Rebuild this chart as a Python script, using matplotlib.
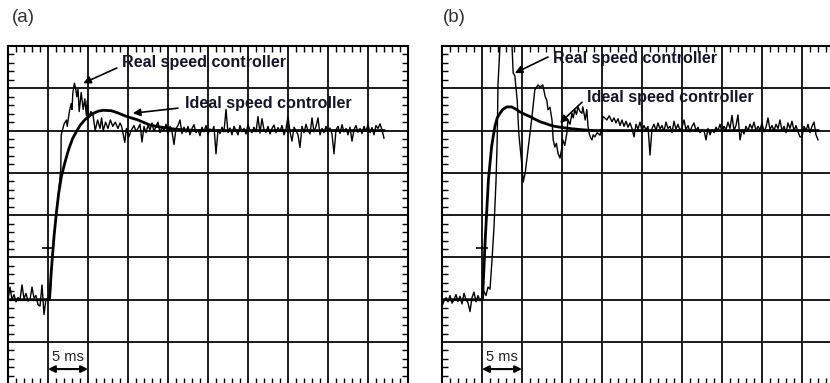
import numpy as np
import matplotlib
matplotlib.use("Agg")
import matplotlib.pyplot as plt
from matplotlib.ticker import MultipleLocator

plt.rcParams['font.family'] = ['Liberation Sans', 'DejaVu Sans']

# ---------------- data (time in ms, speed in grid divisions) ----------------
# panel (a): ideal controller response
ideal_t_a = [0, 5.0, 5.2, 5.42, 5.75, 6.04, 6.33, 6.67, 7.08, 7.4, 7.7, 8.1, 8.54,
             9.0, 9.58, 10.2, 10.8, 11.3, 11.9, 12.9, 13.7, 14.6, 15.4, 16.25,
             17.0, 17.75, 18.8, 19.9, 21.0, 22.4, 25.0, 47.0]
ideal_a = [2.0, 2.0, 2.05, 2.7, 3.49, 4.04, 4.51, 4.91, 5.22, 5.44, 5.62, 5.82, 5.97,
           6.12, 6.25, 6.35, 6.42, 6.46, 6.48, 6.47, 6.42, 6.35, 6.3, 6.25,
           6.19, 6.13, 6.09, 6.06, 6.03, 6.01, 6.0, 6.0]

# panel (a): real controller, before the step (every 0.25 ms from 0 to 5 ms)
real_pre_a = [2.0, 2.3, 2.0, 2.12, 1.95, 2.05, 2.0, 2.35, 2.02, 2.15, 1.97, 2.0,
              2.3, 2.04, 2.1, 1.88, 1.85, 2.35, 1.65, 2.02, 2.0]
# transient part
real_tr_t_a = [5.25, 5.4, 5.6, 5.8, 6.05, 6.3, 6.6, 6.65, 7.0, 7.3, 7.4, 7.7, 7.9,
               8.0, 8.1, 8.3, 8.45, 8.6, 8.75, 8.9, 9.15, 9.4, 9.6, 9.8, 9.9, 10.1,
               10.35, 10.6, 10.9, 11.2, 11.5, 11.7, 11.9, 12.2, 12.5, 12.8, 13.1,
               13.4, 13.75, 14.0, 14.2, 14.6, 14.8, 15.1, 15.4, 15.75, 16.0]
real_tr_a = [2.0, 2.6, 3.2, 3.6, 4.05, 4.5, 5.1, 5.9, 6.15, 6.25, 6.1, 6.48, 6.64,
             6.5, 6.88, 7.12, 7.0, 6.8, 6.98, 6.45, 6.9, 6.5, 6.75, 6.35, 6.7, 6.3,
             6.45, 6.4, 6.0, 6.25, 6.05, 6.3, 6.0, 6.2, 6.05, 6.25, 6.1,
             6.2, 6.05, 6.18, 6.1, 5.72, 6.05, 5.85, 6.0, 6.12, 5.98]
# steady state noise, every 0.25 ms from 16.25 to 47 ms
real_ss_a = [6.05, 6.15, 5.73, 6.1, 5.95, 6.12, 6.02, 6.18,
             5.98, 6.1, 6.2, 5.95, 6.08, 6.0, 6.15, 5.92,
             6.1, 5.97, 5.67, 6.05, 6.12, 6.25, 5.93, 6.08,
             5.96, 6.1, 5.9, 6.05, 6.14, 5.95, 6.02, 5.88,
             6.08, 5.97, 6.12, 5.92, 6.04, 5.98, 6.1, 5.45,
             6.02, 5.93, 6.08, 5.97, 6.5, 5.95, 6.06, 5.9,
             6.1, 6.0, 5.9, 6.12, 5.97, 6.05, 5.92, 6.15,
             6.0, 5.95, 6.08, 5.97, 6.33, 5.94, 6.28, 6.02,
             5.96, 6.1, 5.92, 6.05, 6.13, 5.95, 6.07, 5.98,
             6.12, 5.9, 6.04, 6.33, 5.97, 5.75, 6.08, 6.0,
             5.9, 5.6, 6.1, 5.95, 6.15, 6.0, 5.92, 6.3,
             5.97, 6.1, 6.3, 5.9, 6.05, 5.95, 6.1, 5.98,
             6.06, 5.92, 5.45, 6.02, 6.1, 5.93, 6.14, 5.97,
             6.05, 5.9, 6.08, 5.75, 6.02, 6.12, 5.96, 6.05,
             5.93, 6.1, 5.98, 6.15, 5.95, 6.07, 5.9, 6.12,
             6.05, 6.16, 6.02, 5.82]

# panel (b): ideal controller response
ideal_t_b = [0, 5.0, 5.08, 5.4, 5.8, 6.2, 6.6, 6.9, 7.25, 7.6, 8.1, 8.7, 9.2, 9.75,
             10.4, 11.0, 11.6, 12.25, 12.9, 13.5, 14.1, 14.75, 15.5, 16.4, 17.5,
             19.0, 47.0]
ideal_b = [2.0, 2.0, 2.05, 3.41, 4.83, 5.62, 6.09, 6.3, 6.41, 6.5, 6.56, 6.56, 6.51,
           6.44, 6.38, 6.33, 6.27, 6.21, 6.17, 6.13, 6.1, 6.08, 6.06, 6.04, 6.02,
           6.0, 6.0]

# panel (b): real controller, before the step (every 0.25 ms from 0 to 5.75 ms)
real_pre_b = [1.85, 1.97, 2.05, 1.95, 2.1, 1.92, 2.0, 2.12, 1.96, 2.08, 1.9, 2.15,
              2.0, 1.93, 1.72, 2.05, 2.18, 1.95, 2.1, 1.98, 2.05, 2.2, 2.1, 2.3]
real_tr_t_b = [6.0, 6.25, 6.5, 6.75, 6.9, 7.0, 7.25, 7.6, 8.0, 8.4, 8.75, 8.9, 9.1,
               9.4, 9.6, 10.0, 10.15, 10.4, 10.75, 11.25, 11.6, 12.0, 12.25, 12.6,
               12.9, 13.1, 13.25, 13.5, 13.75, 13.9, 14.1, 14.3, 14.5, 14.75, 15.0,
               15.1, 15.35, 15.6, 15.75, 16.0, 16.25, 16.4, 16.6, 16.8, 17.0, 17.25,
               17.5, 17.6, 17.9, 18.1, 18.25, 18.4, 18.6, 18.75, 18.9, 19.1, 19.4,
               19.75, 20.0, 20.1, 20.35, 20.6, 20.9, 21.25]
real_tr_b = [2.25, 2.94, 3.72, 4.8, 5.77, 7.1, 8.0, 9.3, 9.8, 9.2, 8.0, 7.36, 7.3,
             6.72, 5.93, 5.15, 4.78, 5.0, 5.54, 6.33, 6.96, 7.08, 7.03, 7.08,
             6.8, 6.72, 6.49, 6.55, 6.25, 5.78, 5.61, 5.7, 5.46, 5.35, 5.61,
             5.78, 5.65, 5.93, 6.25, 6.15, 6.41, 6.3, 6.49, 6.38, 6.56, 6.45,
             6.41, 6.56, 6.25, 6.5, 6.1, 5.93, 5.82, 5.78, 5.9, 5.85, 5.95,
             5.89, 6.09, 6.33, 6.3, 6.25, 6.35, 6.21]
# steady state noise, every 0.25 ms from 21.5 to 47 ms
real_ss_b = [6.3, 6.18, 6.28, 6.12, 6.25, 6.1, 6.22, 6.08,
             6.18, 6.05, 5.85, 6.15, 6.03, 6.2, 6.0, 6.12,
             6.02, 6.1, 5.42, 6.05, 6.15, 6.0, 6.18, 6.04,
             6.12, 5.98, 6.2, 6.05, 6.1, 5.95, 6.22, 6.03,
             6.15, 6.0, 6.08, 6.25, 6.02, 6.12, 5.97, 6.1,
             6.18, 6.0, 6.08, 5.95, 6.02, 6.0, 5.78, 6.05,
             5.9, 6.02, 5.95, 6.08, 6.0, 6.15, 5.97, 6.1,
             6.02, 6.2, 6.05, 6.36, 6.0, 6.12, 6.37, 5.78,
             6.02, 5.92, 6.1, 6.0, 6.15, 6.05, 6.2, 6.0,
             6.1, 6.02, 6.18, 5.97, 6.08, 6.3, 6.02, 6.12,
             6.0, 6.15, 6.05, 6.25, 6.0, 6.1, 5.95, 6.18,
             6.05, 6.22, 6.0, 6.12, 5.97, 5.85, 5.85, 6.1,
             6.0, 6.15, 5.95, 6.1, 6.2, 5.9, 5.78]

# small horizontal marker on the rising edge
cross_t = 5.0
cross_y = 3.22
scale_ms = [5.0, 10.0]   # the "5 ms" scale bar


def real_trace(pre, pre_start, tr_t, tr_v, ss, ss_start):
    t_pre = pre_start + 0.25 * np.arange(len(pre))
    t_ss = ss_start + 0.25 * np.arange(len(ss))
    t = np.concatenate([t_pre, tr_t, t_ss])
    v = np.concatenate([pre, tr_v, ss])
    return t, v


def setup_axes(ax):
    ax.set_xlim(0, 50)
    ax.set_ylim(0, 8)
    ax.xaxis.set_major_locator(MultipleLocator(5))
    ax.yaxis.set_major_locator(MultipleLocator(1))
    ax.xaxis.set_minor_locator(MultipleLocator(1))
    ax.yaxis.set_minor_locator(MultipleLocator(0.2))
    ax.grid(True, which='major', color='#1a1a1a', linewidth=1.4)
    ax.tick_params(which='both', direction='in', top=True, bottom=True,
                   left=True, right=True, labelleft=False, labelbottom=False)
    ax.tick_params(which='major', length=0)
    ax.tick_params(which='minor', length=4, width=1, color='black')
    for s in ax.spines.values():
        s.set_linewidth(1.5)
        s.set_color('black')


fig = plt.figure(figsize=(8.3, 3.83), dpi=100)
W, H = 830, 383
ax_h = 338.3 / H
ax_b = (383 - 384.3) / H
ax_a = fig.add_axes([8 / W, ax_b, 400 / W, ax_h])
ax_bb = fig.add_axes([442 / W, ax_b, 400 / W, ax_h])

txt_color = '#15152a'
panels = [
    (ax_a, ideal_t_a, ideal_a,
     real_trace(real_pre_a, 0.0, real_tr_t_a, real_tr_a, real_ss_a, 16.25),
     ((14.25, 7.6), (13.6, 7.48), (9.4, 7.12)),
     ((22.1, 6.65), (21.25, 6.53), (15.6, 6.41))),
    (ax_bb, ideal_t_b, ideal_b,
     real_trace(real_pre_b, 0.0, real_tr_t_b, real_tr_b, real_ss_b, 21.5),
     ((13.9, 7.71), (13.25, 7.74), (9.1, 7.36)),
     ((18.1, 6.79), (17.5, 6.67), (14.75, 6.18))),
]

for ax, it, iv, (rt, rv), real_lab, ideal_lab in panels:
    setup_axes(ax)
    ax.plot(rt, rv, color='black', linewidth=1.0, zorder=3)
    ax.plot(it, iv, color='black', linewidth=2.0, zorder=4)
    ax.plot([cross_t], [cross_y], marker='_', markersize=9, markeredgewidth=1.2,
            color='black', zorder=5)

    (tx, ty), tail, tip = real_lab
    ax.text(tx, ty, 'Real speed controller', fontsize=11.6, fontweight='bold',
            color=txt_color, va='center', ha='left', zorder=6)
    ax.annotate('', xy=tip, xytext=tail,
                arrowprops=dict(arrowstyle='-|>', color='black', lw=1.2,
                                mutation_scale=11, shrinkA=0, shrinkB=0), zorder=6)
    (tx, ty), tail, tip = ideal_lab
    ax.text(tx, ty, 'Ideal speed controller', fontsize=11.6, fontweight='bold',
            color=txt_color, va='center', ha='left', zorder=6)
    ax.annotate('', xy=tip, xytext=tail,
                arrowprops=dict(arrowstyle='-|>', color='black', lw=1.2,
                                mutation_scale=11, shrinkA=0, shrinkB=0), zorder=6)

    # 5 ms scale bar
    ax.annotate('', xy=(scale_ms[1], 0.36), xytext=(scale_ms[0], 0.36),
                arrowprops=dict(arrowstyle='<|-|>', color='black', lw=1.5,
                                mutation_scale=10, shrinkA=0, shrinkB=0), zorder=6)
    ax.text(sum(scale_ms) / 2, 0.64, '5 ms', fontsize=10.5, color='#222222',
            ha='center', va='center', zorder=6)

fig.text(12 / W, 1 - 18 / H, '(a)', fontsize=13.5, color='#333333', va='center', ha='left')
fig.text(443 / W, 1 - 18 / H, '(b)', fontsize=13.5, color='#333333', va='center', ha='left')

fig.savefig('out.png', dpi=100, facecolor='white')
